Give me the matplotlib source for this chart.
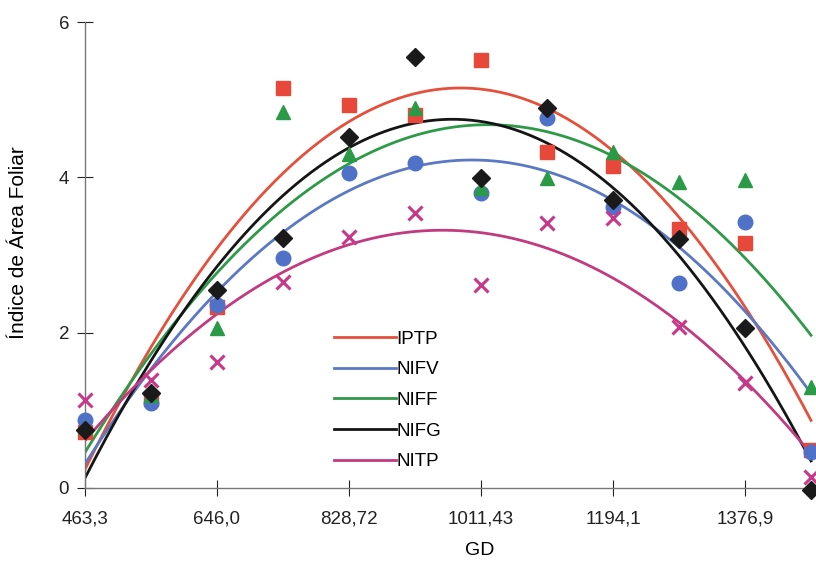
import numpy as np
import matplotlib.pyplot as plt

plt.rcParams['font.family'] = ['Liberation Sans', 'DejaVu Sans']

# GD values (every half tick step)
gd = [463.3, 554.65, 646.0, 737.36, 828.72, 920.07, 1011.43, 1102.8, 1194.1, 1285.5, 1376.9, 1468.2]
tick_vals = [463.3, 646.0, 828.72, 1011.43, 1194.1, 1376.9]
tick_labels = ['463,3', '646,0', '828,72', '1011,43', '1194,1', '1376,9']

iptp = [0.72, 1.15, 2.33, 5.15, 4.93, 4.80, 5.51, 4.33, 4.14, 3.34, 3.15, 0.49]
nifv = [0.87, 1.09, 2.35, 2.96, 4.06, 4.18, 3.80, 4.76, 3.62, 2.64, 3.43, 0.46]
niff = [0.78, 1.20, 2.06, 4.84, 4.30, 4.89, 3.86, 3.99, 4.33, 3.94, 3.96, 1.30]
nifg = [0.75, 1.22, 2.55, 3.22, 4.52, 5.55, 3.99, 4.89, 3.71, 3.21, 2.06, -0.02]
nitp = [1.13, 1.39, 1.62, 2.65, 3.23, 3.54, 2.61, 3.41, 3.47, 2.07, 1.35, 0.14]

series = [
    ('IPTP', iptp, '#e5503d', 's', '#e8483a'),
    ('NIFV', nifv, '#5b78c2', 'o', '#4f72c8'),
    ('NIFF', niff, '#2e9a48', '^', '#2a9a46'),
    ('NIFG', nifg, '#151515', 'D', '#1a1a1a'),
    ('NITP', nitp, '#c23a80', 'x', '#c8378a'),
]

fig = plt.figure(figsize=(8.16, 5.67), dpi=100)
ax = fig.add_axes([85/816, 79/567, 731/816, 466/567])

x = np.array(gd)
xs = np.linspace(x[0], x[-1], 200)
for name, vals, lc, mk, mc in series:
    # quadratic trend line, as in the spreadsheet
    coef = np.polyfit(x, vals, 2)
    ax.plot(xs, np.polyval(coef, xs), color=lc, lw=2, label=name, zorder=2)
    if mk == 'x':
        ax.plot(x, vals, ls='none', marker=mk, ms=10, mew=2.2, color=mc, zorder=3, clip_on=False)
    elif mk == 'D':
        ax.plot(x, vals, ls='none', marker=mk, ms=9, color=mc, zorder=3, clip_on=False)
    else:
        ax.plot(x, vals, ls='none', marker=mk, ms=10.5, color=mc, zorder=3, clip_on=False)

ax.set_xlim(463.3, 1475.1)
ax.set_ylim(0, 6)
ax.set_xticks(tick_vals)
ax.set_xticklabels(tick_labels)
ax.set_yticks([0, 2, 4, 6])
ax.tick_params(direction='inout', length=11, width=0.8, labelsize=13.5, colors='#222222')
ax.tick_params(axis='y', pad=6)
ax.tick_params(axis='x', pad=11)
for s in ['top', 'right']:
    ax.spines[s].set_visible(False)
for s in ['left', 'bottom']:
    ax.spines[s].set_color('#777777')
    ax.spines[s].set_linewidth(1)

ax.set_xlabel('GD', fontsize=14)
ax.xaxis.set_label_coords(0.54, -0.115)
ax.set_ylabel('Índice de Área Foliar', fontsize=15)
ax.yaxis.set_label_coords(-0.078, 0.526)

ax.legend(loc='upper left', bbox_to_anchor=(0.33, 0.354), frameon=False, fontsize=13.5,
          handlelength=3.3, handletextpad=0.05, labelspacing=0.72, borderaxespad=0)

fig.savefig('out.png', dpi=100)
